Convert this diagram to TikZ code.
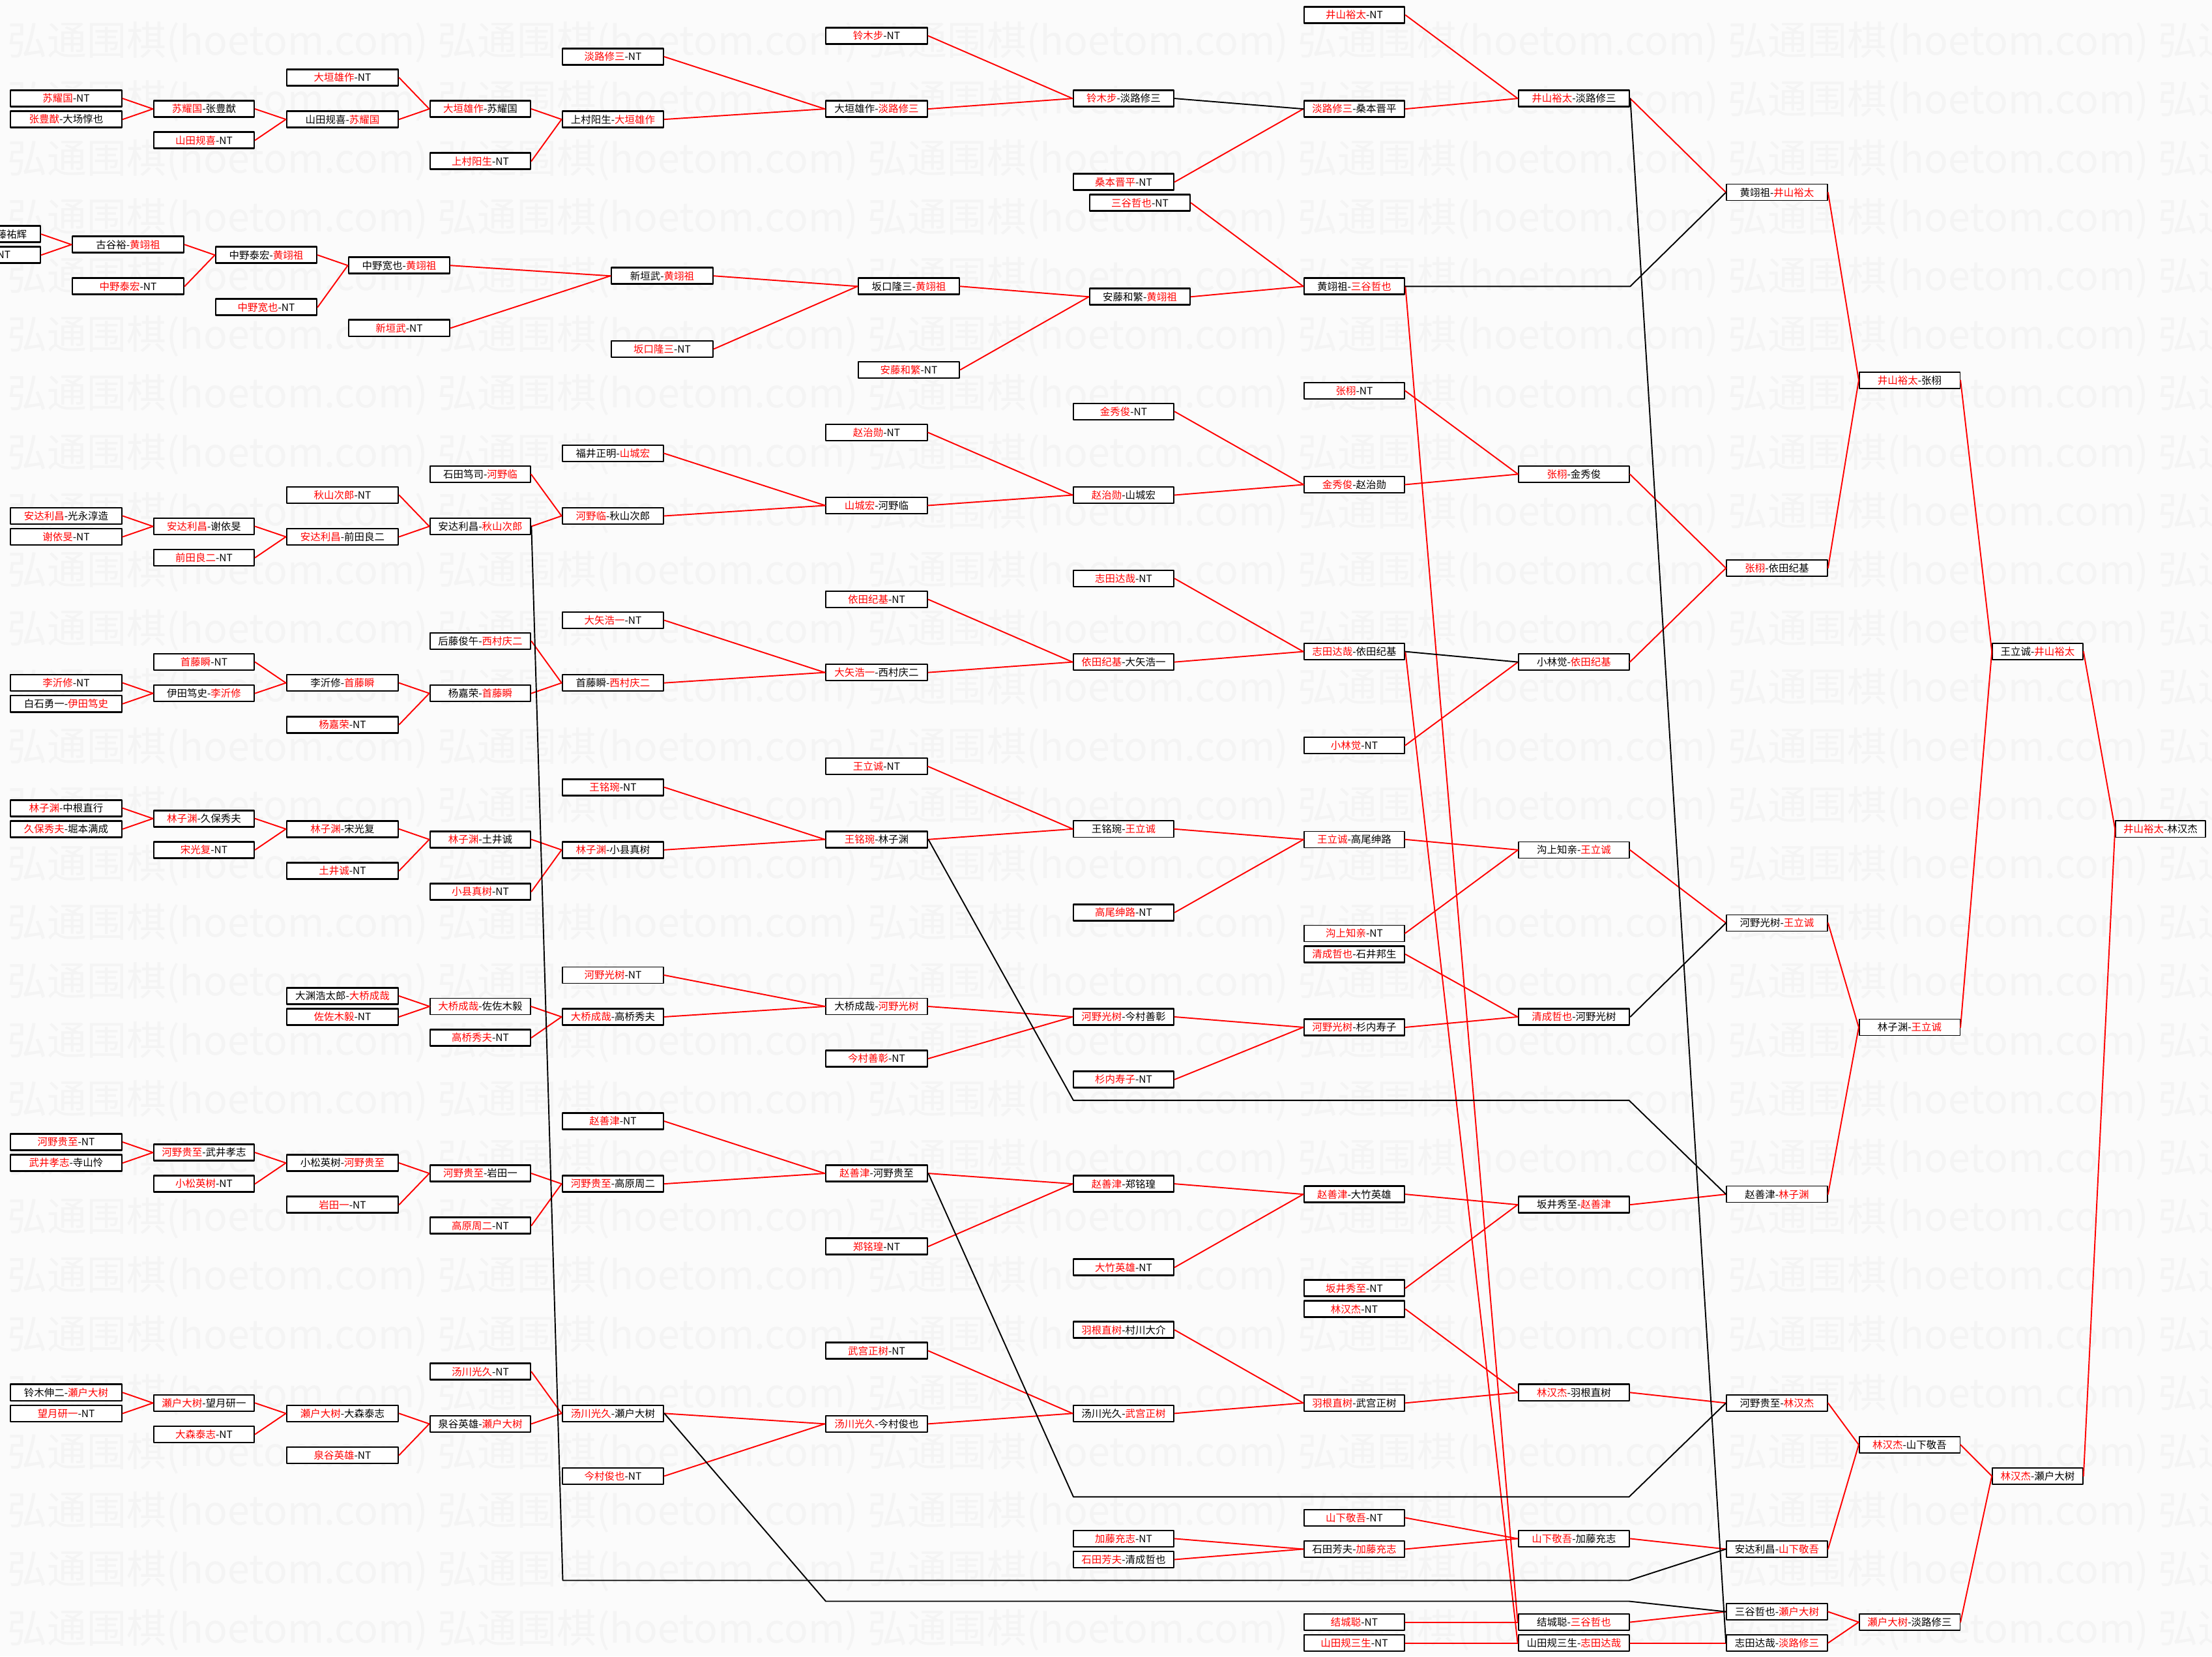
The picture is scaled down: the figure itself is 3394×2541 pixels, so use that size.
\documentclass[tikz,border=0pt]{standalone}
\usepackage{fontspec}
\setmainfont{Noto Sans CJK SC}
\usepackage{tikz}

\newcommand{\wn}[1]{\textcolor{red}{#1}}

\begin{document}
\begin{tikzpicture}[line cap=round, line join=round, x=0.01cm, y=-0.01cm,
    player/.style={draw, line width=0.75pt, fill=white, inner sep=0pt,
      minimum height=0.25cm, font=\fontsize{4.4}{5}\selectfont},
    faint/.style={player, line width=0.45pt},
    wa/.style={minimum width=1.71cm}, wb/.style={minimum width=1.54cm},
    wc/.style={minimum width=1.71cm}, wd/.style={minimum width=1.54cm},
    we/.style={minimum width=1.55cm}, wf/.style={minimum width=1.56cm},
    wg/.style={minimum width=1.54cm}, wh/.style={minimum width=1.54cm},
    wi/.style={minimum width=1.70cm}, wj/.style={minimum width=1.55cm},
    wk/.style={minimum width=1.545cm}, wl/.style={minimum width=1.39cm},
    wm/.style={minimum width=1.38cm},
    win/.style={draw=red, line width=0.55pt},
    lose/.style={draw=black, line width=0.55pt},
    wmark/.style={anchor=west, inner sep=0pt, text=black!4.5,
      font=\fontsize{17.3}{18}\selectfont}]
  \useasboundingbox (0,0) rectangle (3394,2541);
  \clip (0,0) rectangle (3394,2541);
  \fill[black!1.5] (0,0) rectangle (3394,2541);
  % watermark
  \foreach \r in {0,...,27}
    \foreach \c in {0,...,5}
      \node[wmark] (wm-\r-\c) at ({11+660*\c}, {65+90.2*\r}) {弘通围棋(hoetom.com)};

  \begin{scope}[yshift=-0.23cm, y=-0.16cm]
    % top block
    \node[player, wa] (A8) at (101.5,8) {\wn{苏耀国}-NT};
    \node[player, wa] (A10) at (101.5,10) {\wn{张豊猷}-大场惇也};
    \node[player, wb] (B9) at (313,9) {\wn{苏耀国}-张豊猷};
    \node[player, wb] (B12) at (313,12) {\wn{山田规喜}-NT};
    \node[player, wc] (C6) at (525.5,6) {\wn{大垣雄作}-NT};
    \node[player, wc] (C10) at (525.5,10) {山田规喜-\wn{苏耀国}};
    \node[player, wd] (D9) at (737,9) {\wn{大垣雄作}-苏耀国};
    \node[player, wd] (D14) at (737,14) {\wn{上村阳生}-NT};
    \node[player, we] (E4) at (940.5,4) {\wn{淡路修三}-NT};
    \node[player, we] (E10) at (940.5,10) {上村阳生-\wn{大垣雄作}};
    \node[player, wf] (F2) at (1345,2) {\wn{铃木步}-NT};
    \node[player, wf] (F9) at (1345,9) {大垣雄作-\wn{淡路修三}};
    \node[player, wg] (G8) at (1724,8) {\wn{铃木步}-淡路修三};
    \node[player, wg] (G16) at (1724,16) {\wn{桑本晋平}-NT};
    \node[player, wh] (H0) at (2078,0) {\wn{井山裕太}-NT};
    \node[player, wh] (H9) at (2078,9) {\wn{淡路修三}-桑本晋平};
    \node[player, wi] (I8) at (2415,8) {\wn{井山裕太}-淡路修三};

    % huang block
    \node[player, wa, text width=1.29cm, align=right] (xA21) at (-23.5,21) {藤祐辉};
    \node[player, wa, text width=0.79cm, align=right] (xA23) at (-23.5,23) {-NT};
    \node[player, wa] (xB22) at (196.5,22) {古谷裕-\wn{黄翊祖}};
    \node[player, wa] (xB26) at (196.5,26) {\wn{中野泰宏}-NT};
    \node[player, we] (xC23) at (408.5,23) {中野泰宏-\wn{黄翊祖}};
    \node[player, we] (xC28) at (408.5,28) {\wn{中野宽也}-NT};
    \node[player, we] (xD24) at (612.5,24) {中野宽也-\wn{黄翊祖}};
    \node[player, we] (xD30) at (612.5,30) {\wn{新垣武}-NT};
    \node[player, wf] (xE25) at (1016,25) {新垣武-\wn{黄翊祖}};
    \node[player, wf] (xE32) at (1016,32) {\wn{坂口隆三}-NT};
    \node[player, we] (xF26) at (1394.5,26) {坂口隆三-\wn{黄翊祖}};
    \node[player, we] (xF34) at (1394.5,34) {\wn{安藤和繁}-NT};
    \node[player, wg] (xG27) at (1749,27) {安藤和繁-\wn{黄翊祖}};
    \node[player, wg] (xG18) at (1749,18) {\wn{三谷哲也}-NT};
    \node[player, wh] (H26) at (2078,26) {黄翊祖-\wn{三谷哲也}};
    \node[faint, wj] (J17) at (2726.5,17) {黄翊祖-\wn{井山裕太}};

    % zhang block
    \node[player, wa] (A48) at (101.5,48) {\wn{安达利昌}-光永淳造};
    \node[player, wa] (A50) at (101.5,50) {\wn{谢依旻}-NT};
    \node[player, wb] (B49) at (313,49) {\wn{安达利昌}-谢依旻};
    \node[player, wb] (B52) at (313,52) {\wn{前田良二}-NT};
    \node[player, wc] (C46) at (525.5,46) {\wn{秋山次郎}-NT};
    \node[player, wc] (C50) at (525.5,50) {\wn{安达利昌}-前田良二};
    \node[faint, wd] (D44) at (737,44) {石田笃司-\wn{河野临}};
    \node[player, wd] (D49) at (737,49) {安达利昌-\wn{秋山次郎}};
    \node[faint, we] (E42) at (940.5,42) {福井正明-\wn{山城宏}};
    \node[player, we] (E48) at (940.5,48) {\wn{河野临}-秋山次郎};
    \node[faint, wf] (F40) at (1345,40) {\wn{赵治勋}-NT};
    \node[faint, wf] (F47) at (1345,47) {\wn{山城宏}-河野临};
    \node[player, wg] (G38) at (1724,38) {\wn{金秀俊}-NT};
    \node[player, wg] (G46) at (1724,46) {\wn{赵治勋}-山城宏};
    \node[faint, wh] (H36) at (2078,36) {\wn{张栩}-NT};
    \node[faint, wh] (H45) at (2078,45) {\wn{金秀俊}-赵治勋};
    \node[faint, wi] (I44) at (2415,44) {\wn{张栩}-金秀俊};
    \node[faint, wj] (J53) at (2726.5,53) {\wn{张栩}-依田纪基};
    \node[faint, wk] (K35) at (2930,35) {\wn{井山裕太}-张栩};

    % yoda block
    \node[player, wa] (A64) at (101.5,64) {\wn{李沂修}-NT};
    \node[player, wa] (A66) at (101.5,66) {白石勇一-\wn{伊田笃史}};
    \node[player, wb] (B62) at (313,62) {\wn{首藤瞬}-NT};
    \node[player, wb] (B65) at (313,65) {伊田笃史-\wn{李沂修}};
    \node[player, wc] (C64) at (525.5,64) {李沂修-\wn{首藤瞬}};
    \node[player, wc] (C68) at (525.5,68) {\wn{杨嘉荣}-NT};
    \node[player, wd] (D60) at (737,60) {后藤俊午-\wn{西村庆二}};
    \node[player, wd] (D65) at (737,65) {杨嘉荣-\wn{首藤瞬}};
    \node[player, we] (E58) at (940.5,58) {\wn{大矢浩一}-NT};
    \node[player, we] (E64) at (940.5,64) {首藤瞬-\wn{西村庆二}};
    \node[player, wf] (F56) at (1345,56) {\wn{依田纪基}-NT};
    \node[player, wf] (F63) at (1345,63) {\wn{大矢浩一}-西村庆二};
    \node[player, wg] (G54) at (1724,54) {\wn{志田达哉}-NT};
    \node[player, wg] (G62) at (1724,62) {\wn{依田纪基}-大矢浩一};
    \node[player, wh] (H61) at (2078,61) {\wn{志田达哉}-依田纪基};
    \node[faint, wh] (H70) at (2078,70) {\wn{小林觉}-NT};
    \node[faint, wi] (I62) at (2415,62) {小林觉-\wn{依田纪基}};

    % wang block
    \node[player, wa] (A76) at (101.5,76) {\wn{林子渊}-中根直行};
    \node[player, wa] (A78) at (101.5,78) {\wn{久保秀夫}-堀本满成};
    \node[player, wb] (B77) at (313,77) {\wn{林子渊}-久保秀夫};
    \node[player, wb] (B80) at (313,80) {\wn{宋光复}-NT};
    \node[player, wc] (C78) at (525.5,78) {\wn{林子渊}-宋光复};
    \node[player, wc] (C82) at (525.5,82) {\wn{土井诚}-NT};
    \node[player, wd] (D79) at (737,79) {\wn{林子渊}-土井诚};
    \node[player, wd] (D84) at (737,84) {\wn{小县真树}-NT};
    \node[player, we] (E74) at (940.5,74) {\wn{王铭琬}-NT};
    \node[player, we] (E80) at (940.5,80) {\wn{林子渊}-小县真树};
    \node[faint, wf] (F72) at (1345,72) {\wn{王立诚}-NT};
    \node[player, wf] (F79) at (1345,79) {\wn{王铭琬}-林子渊};
    \node[faint, wg] (G78) at (1724,78) {王铭琬-\wn{王立诚}};
    \node[player, wg] (G86) at (1724,86) {\wn{高尾绅路}-NT};
    \node[faint, wh] (H79) at (2078,79) {\wn{王立诚}-高尾绅路};
    \node[faint, wh] (H88) at (2078,88) {\wn{沟上知亲}-NT};
    \node[player, wh] (H90) at (2078,90) {\wn{清成哲也}-石井邦生};
    \node[faint, wi] (I80) at (2415,80) {沟上知亲-\wn{王立诚}};
    \node[faint, wj] (J87) at (2726.5,87) {河野光树-\wn{王立诚}};
    \node[faint, wk] (K97) at (2930,97) {林子渊-\wn{王立诚}};
    \node[faint, wl] (L61) at (3126.5,61) {王立诚-\wn{井山裕太}};
    \node[faint, wm] (M78) at (3315,78) {\wn{井山裕太}-林汉杰};

    % kono block
    \node[player, wc] (C94) at (525.5,94) {大渊浩太郎-\wn{大桥成哉}};
    \node[player, wc] (C96) at (525.5,96) {\wn{佐佐木毅}-NT};
    \node[faint, wd] (D95) at (737,95) {\wn{大桥成哉}-佐佐木毅};
    \node[player, wd] (D98) at (737,98) {\wn{高桥秀夫}-NT};
    \node[faint, we] (E92) at (940.5,92) {\wn{河野光树}-NT};
    \node[player, we] (E96) at (940.5,96) {\wn{大桥成哉}-高桥秀夫};
    \node[faint, wf] (F95) at (1345,95) {大桥成哉-\wn{河野光树}};
    \node[player, wf] (F100) at (1345,100) {\wn{今村善彰}-NT};
    \node[player, wg] (G96) at (1724,96) {\wn{河野光树}-今村善彰};
    \node[player, wg] (G102) at (1724,102) {\wn{杉内寿子}-NT};
    \node[player, wh] (H97) at (2078,97) {\wn{河野光树}-杉内寿子};
    \node[player, wi] (I96) at (2415,96) {\wn{清成哲也}-河野光树};

    % zhao block
    \node[player, wa] (A108) at (101.5,108) {\wn{河野贵至}-NT};
    \node[player, wa] (A110) at (101.5,110) {\wn{武井孝志}-寺山怜};
    \node[player, wb] (B109) at (313,109) {\wn{河野贵至}-武井孝志};
    \node[player, wb] (B112) at (313,112) {\wn{小松英树}-NT};
    \node[player, wc] (C110) at (525.5,110) {小松英树-\wn{河野贵至}};
    \node[player, wc] (C114) at (525.5,114) {\wn{岩田一}-NT};
    \node[player, wd] (D111) at (737,111) {\wn{河野贵至}-岩田一};
    \node[player, wd] (D116) at (737,116) {\wn{高原周二}-NT};
    \node[player, we] (E106) at (940.5,106) {\wn{赵善津}-NT};
    \node[player, we] (E112) at (940.5,112) {\wn{河野贵至}-高原周二};
    \node[player, wf] (F111) at (1345,111) {\wn{赵善津}-河野贵至};
    \node[player, wf] (F118) at (1345,118) {\wn{郑铭瑝}-NT};
    \node[player, wg] (G112) at (1724,112) {\wn{赵善津}-郑铭瑝};
    \node[player, wg] (G120) at (1724,120) {\wn{大竹英雄}-NT};
    \node[player, wh] (H113) at (2078,113) {\wn{赵善津}-大竹英雄};
    \node[player, wh] (H122) at (2078,122) {\wn{坂井秀至}-NT};
    \node[player, wi] (I114) at (2415,114) {坂井秀至-\wn{赵善津}};
    \node[faint, wj] (J113) at (2726.5,113) {赵善津-\wn{林子渊}};

    % seto block
    \node[player, wa] (A132) at (101.5,132) {铃木伸二-\wn{瀬户大树}};
    \node[player, wa] (A134) at (101.5,134) {\wn{望月研一}-NT};
    \node[player, wb] (B133) at (313,133) {\wn{瀬户大树}-望月研一};
    \node[player, wb] (B136) at (313,136) {\wn{大森泰志}-NT};
    \node[player, wc] (C134) at (525.5,134) {\wn{瀬户大树}-大森泰志};
    \node[player, wc] (C138) at (525.5,138) {\wn{泉谷英雄}-NT};
    \node[player, wd] (D130) at (737,130) {\wn{汤川光久}-NT};
    \node[player, wd] (D135) at (737,135) {泉谷英雄-\wn{瀬户大树}};
    \node[player, we] (E134) at (940.5,134) {\wn{汤川光久}-瀬户大树};
    \node[player, we] (E140) at (940.5,140) {\wn{今村俊也}-NT};
    \node[player, wf] (F128) at (1345,128) {\wn{武宫正树}-NT};
    \node[player, wf] (F135) at (1345,135) {\wn{汤川光久}-今村俊也};
    \node[player, wg] (G126) at (1724,126) {\wn{羽根直树}-村川大介};
    \node[player, wg] (G134) at (1724,134) {汤川光久-\wn{武宫正树}};
    \node[player, wh] (H124) at (2078,124) {\wn{林汉杰}-NT};
    \node[player, wh] (H133) at (2078,133) {\wn{羽根直树}-武宫正树};
    \node[player, wi] (I132) at (2415,132) {\wn{林汉杰}-羽根直树};
    \node[faint, wj] (J133) at (2726.5,133) {河野贵至-\wn{林汉杰}};
    \node[faint, wk] (K137) at (2930,137) {\wn{林汉杰}-山下敬吾};
    \node[faint, wl] (L140) at (3126.5,140) {\wn{林汉杰}-瀬户大树};

    % yamashita block
    \node[player, wg] (G146) at (1724,146) {\wn{加藤充志}-NT};
    \node[player, wg] (G148) at (1724,148) {\wn{石田芳夫}-清成哲也};
    \node[player, wh] (H144) at (2078,144) {\wn{山下敬吾}-NT};
    \node[player, wh] (H147) at (2078,147) {石田芳夫-\wn{加藤充志}};
    \node[player, wi] (I146) at (2415,146) {\wn{山下敬吾}-加藤充志};
    \node[faint, wj] (J147) at (2726.5,147) {安达利昌-\wn{山下敬吾}};

    % yuki block
    \node[player, wh] (H154) at (2078,154) {\wn{结城聪}-NT};
    \node[player, wh] (H156) at (2078,156) {\wn{山田规三生}-NT};
    \node[player, wi] (I154) at (2415,154) {结城聪-\wn{三谷哲也}};
    \node[player, wi] (I156) at (2415,156) {山田规三生-\wn{志田达哉}};
    \node[faint, wj] (J153) at (2726.5,153) {三谷哲也-\wn{瀬户大树}};
    \node[faint, wj] (J156) at (2726.5,156) {志田达哉-\wn{淡路修三}};
    \node[faint, wk] (K154) at (2930,154) {\wn{瀬户大树}-淡路修三};

    % winners
    \foreach \a/\b in {A8/B9, A10/B9, B9/C10, B12/C10, C6/D9, C10/D9, D9/E10, D14/E10,
        E4/F9, E10/F9, F2/G8, F9/G8, G16/H9, H0/I8, H9/I8, I8/J17, J17/K35, K35/L61, L61/M78,
        xA21/xB22, xA23/xB22, xB22/xC23, xB26/xC23, xC23/xD24, xC28/xD24, xD24/xE25, xD30/xE25,
        xE25/xF26, xE32/xF26, xF26/xG27, xF34/xG27, xG18/H26, xG27/H26, H26/I154,
        A48/B49, A50/B49, B49/C50, B52/C50, C46/D49, C50/D49, D44/E48, D49/E48, E42/F47, E48/F47,
        F40/G46, F47/G46, G38/H45, G46/H45, H36/I44, H45/I44, I44/J53, J53/K35,
        A64/B65, A66/B65, B62/C64, B65/C64, C64/D65, C68/D65, D60/E64, D65/E64, E58/F63, E64/F63,
        F56/G62, F63/G62, G54/H61, G62/H61, H70/I62, I62/J53, H61/I156,
        A76/B77, A78/B77, B77/C78, B80/C78, C78/D79, C82/D79, D79/E80, D84/E80, E74/F79, E80/F79,
        F72/G78, F79/G78, G78/H79, G86/H79, H79/I80, H88/I80, I80/J87, J87/K97, K97/L61,
        C94/D95, C96/D95, D95/E96, D98/E96, E92/F95, E96/F95, F95/G96, F100/G96, G96/H97, G102/H97,
        H90/I96, H97/I96,
        A108/B109, A110/B109, B109/C110, B112/C110, C110/D111, C114/D111, D111/E112, D116/E112,
        E106/F111, E112/F111, F111/G112, F118/G112, G112/H113, G120/H113, H113/I114, H122/I114,
        I114/J113, J113/K97,
        A132/B133, A134/B133, B133/C134, B136/C134, C134/D135, C138/D135, D130/E134, D135/E134,
        E134/F135, E140/F135, F128/G134, F135/G134, G126/H133, G134/H133, H124/I132, H133/I132,
        I132/J133, J133/K137, K137/L140, L140/M78,
        G146/H147, G148/H147, H144/I146, H147/I146, I146/J147, J147/K137,
        H154/I154, H156/I156, I154/J153, I156/J156, J153/K154, J156/K154, K154/L140}
      \draw[win] (\a.east) -- (\b.west);

    % losers
    \coordinate (p1) at (863.5,150);
    \coordinate (p2) at (2499.5,150);
    \coordinate (p3) at (1647,104);
    \coordinate (p4) at (2499.5,104);
    \coordinate (p5) at (1647,142);
    \coordinate (p6) at (2499.5,142);
    \coordinate (p7) at (1267,152);
    \coordinate (p8) at (2499.5,152);
    \draw[lose] (G8.east) -- (H9.west);
    \draw[lose] (H61.east) -- (I62.west);
    \draw[lose] (I96.east) -- (J87.west);
    \draw[lose] (I8.east) -- (J156.west);
    \draw[lose] (H26.east) -- (H26.east -| I8.east) -- (J17.west);
    \draw[lose] (D49.east) -- (p1) -- (p2) -- (J147.west);
    \draw[lose] (F79.east) -- (p3) -- (p4) -- (J113.west);
    \draw[lose] (F111.east) -- (p5) -- (p6) -- (J133.west);
    \draw[lose] (E134.east) -- (p7) -- (p8) -- (J153.west);
  \end{scope}
\end{tikzpicture}
\end{document}
